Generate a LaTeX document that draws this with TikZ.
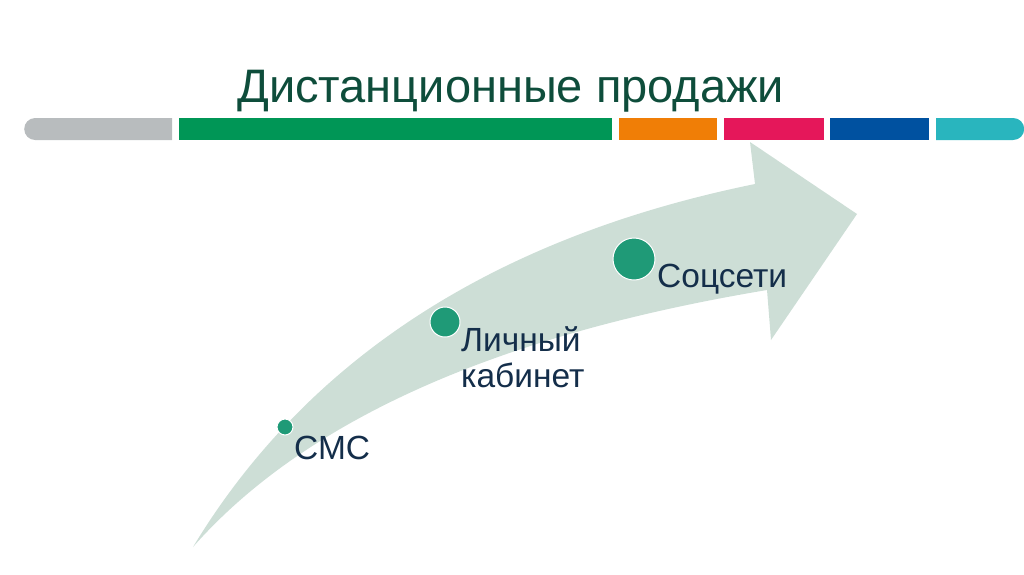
\documentclass[tikz,border=0pt]{standalone}
\usepackage{fontspec}
\setmainfont{Liberation Sans}
\usetikzlibrary{shapes.misc,positioning,calc}
\definecolor{titlegreen}{RGB}{14,77,59}
\definecolor{labelnavy}{RGB}{20,46,74}
\definecolor{segGray}{RGB}{184,188,190}
\definecolor{segGreen}{RGB}{0,150,86}
\definecolor{segOrange}{RGB}{240,126,6}
\definecolor{segPink}{RGB}{229,23,90}
\definecolor{segBlue}{RGB}{0,81,160}
\definecolor{segTeal}{RGB}{41,181,190}
\definecolor{arrowfill}{RGB}{205,222,214}
\definecolor{dotgreen}{RGB}{31,154,119}

\begin{document}
\begin{tikzpicture}[
    x=1pt, y=-1pt,
    seg/.style={rectangle, inner sep=0pt, minimum height=22pt, anchor=west},
    dot/.style={circle, inner sep=0pt, fill=dotgreen, draw=white, line width=1pt},
    step label/.style={anchor=base west, inner sep=0pt, text=labelnavy, align=left,
        font=\fontsize{33.5}{36}\selectfont}
]
\useasboundingbox (0,0) rectangle (1024,574);

% Title
\node[anchor=base west, inner sep=0pt, text=titlegreen, font=\fontsize{47}{54}\selectfont]
    (title) at (237,102) {Дистанционные продажи};

% Colour bar
\node[seg, rounded rectangle, rounded rectangle right arc=none, fill=segGray, minimum width=148pt] (bar0) at (24,129) {};
\node[seg, fill=segGreen, minimum width=433pt] (bar1) at (179,129) {};
\node[seg, fill=segOrange, minimum width=98pt] (bar2) at (619,129) {};
\node[seg, fill=segPink, minimum width=100pt] (bar3) at (724,129) {};
\node[seg, fill=segBlue, minimum width=99pt] (bar4) at (830,129) {};
\node[seg, rounded rectangle, rounded rectangle left arc=none, fill=segTeal, minimum width=88pt] (bar5) at (936,129) {};

% Curved arrow
\fill[arrowfill] (193,547) .. controls (300,370) and (480,240) .. (755,184)
    -- (750,142) -- (857,214) -- (771,340) -- (767,290)
    .. controls (600,318) and (340,380) .. cycle;

% Steps
\node[dot, minimum size=16pt] (sms) at (285,427) {};
\node[dot, minimum size=30pt] (cabinet) at (445,322) {};
\node[dot, minimum size=42pt] (social) at (634,259) {};

\node[step label] (smstext) at (294,459) {СМС};
\node[step label] (cabinettext) at (461,387) {Личный\\кабинет};
\node[step label] (socialtext) at (657,287) {Соцсети};

\end{tikzpicture}
\end{document}
